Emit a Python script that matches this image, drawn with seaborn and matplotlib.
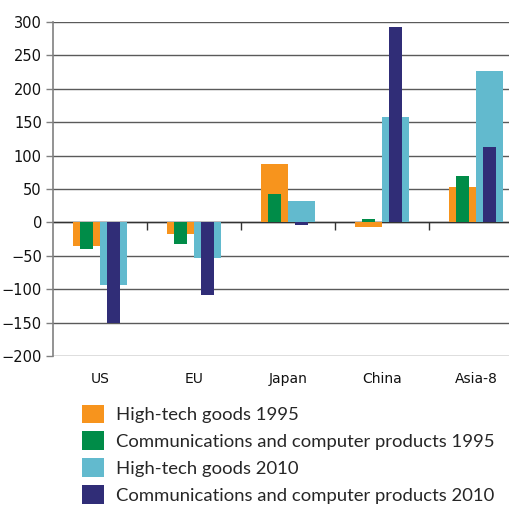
import numpy as np
import matplotlib
matplotlib.use("Agg")
import matplotlib.pyplot as plt
import seaborn as sns
import pandas as pd
from matplotlib.patches import Patch

# data
regions = ["US", "EU", "Japan", "China", "Asia-8"]
hightech_1995 = [-35, -17, 87, -7, 53]
comm_1995 = [-40, -32, 42, 5, 69]
hightech_2010 = [-94, -53, 32, 158, 227]
comm_2010 = [-150, -108, -3.5, 293, 113]

legend_labels = ["High-tech goods 1995",
                 "Communications and computer products 1995",
                 "High-tech goods 2010",
                 "Communications and computer products 2010"]
colors = ["#F7941D", "#008C48", "#62BACE", "#302D77"]

# long table for seaborn
rows = []
for i, r in enumerate(regions):
    rows.append([r, "High-tech", "1995", hightech_1995[i]])
    rows.append([r, "High-tech", "2010", hightech_2010[i]])
    rows.append([r, "Comm", "1995", comm_1995[i]])
    rows.append([r, "Comm", "2010", comm_2010[i]])
df = pd.DataFrame(rows, columns=["region", "product", "year", "value"])

sns.set_style("white")
plt.rcParams['font.family'] = ['DejaVu Sans']

fig = plt.figure(figsize=(5.10, 5.05), dpi=100)
ax = fig.add_axes([0.1039, 0.295, 0.9216, 0.6614])

# wide bars: high-tech goods
sns.barplot(data=df[df["product"] == "High-tech"], x="region", y="value",
            hue="year", order=regions, hue_order=["1995", "2010"],
            palette=[colors[0], colors[2]], width=0.574, dodge=True,
            errorbar=None, legend=False, ax=ax, zorder=3, saturation=1,
            linewidth=0)
# narrow bars: communications and computer products
sns.barplot(data=df[df["product"] == "Comm"], x="region", y="value",
            hue="year", order=regions, hue_order=["1995", "2010"],
            palette=[colors[1], colors[3]], width=0.574, dodge=True, gap=0.55,
            errorbar=None, legend=False, ax=ax, zorder=4, saturation=1,
            linewidth=0)

ax.set_xlim(-0.5, 4.5)
ax.set_ylim(-200, 300)
ax.set_yticks(np.arange(-200, 301, 50))
ax.yaxis.grid(True, color="#5a5a5a", lw=1.0, zorder=0)
ax.set_axisbelow(True)
ax.set_xlabel("")
ax.set_ylabel("")

for s in ["top", "right", "bottom"]:
    ax.spines[s].set_visible(False)
ax.spines["left"].set_color("#808080")
ax.spines["left"].set_linewidth(1.2)

ax.tick_params(axis="y", left=True, length=5, width=1, color="#808080",
               labelsize=10.5, pad=3, labelcolor="#111111")
ax.tick_params(axis="x", bottom=False, labelsize=10, pad=8, labelcolor="#111111")

# category separator ticks on the zero line
ax.axhline(0, color="#333333", lw=1.0, zorder=2)
ax.vlines(np.arange(0.5, len(regions)), 0, -12, color="#333333", lw=1.0, zorder=2)

handles = [Patch(facecolor=c, edgecolor="none") for c in colors]
fig.legend(handles, legend_labels, loc="upper left",
           bbox_to_anchor=(0.161, 0.199), frameon=False,
           handlelength=1.2, handleheight=1.2, labelspacing=0.43,
           handletextpad=0.62, borderpad=0, borderaxespad=0,
           prop={"family": "Lato", "size": 13.3})

fig.savefig("out.png", dpi=100)
